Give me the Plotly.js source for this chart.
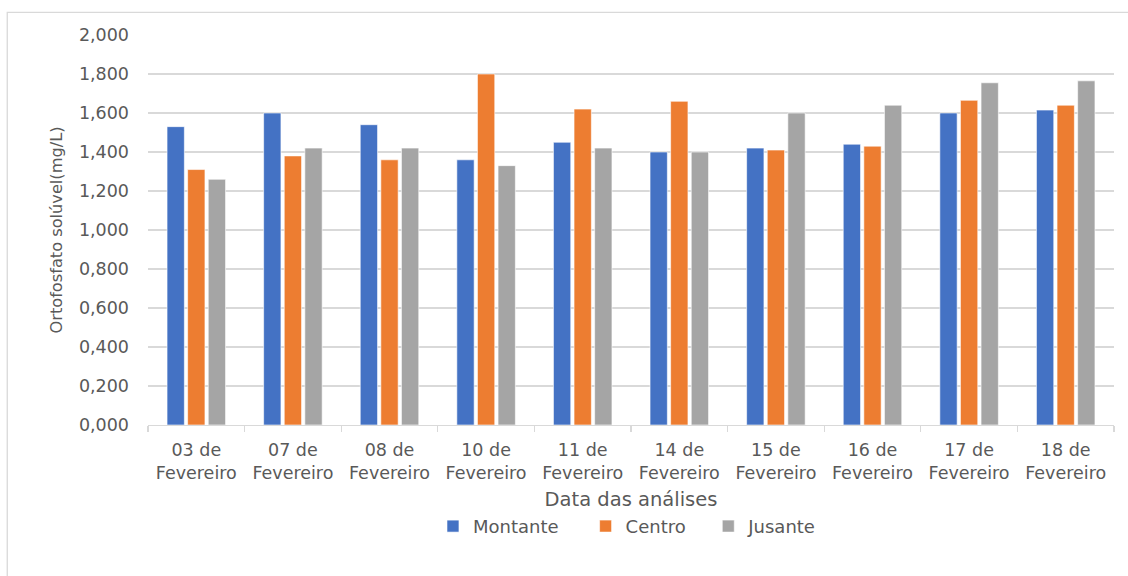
<!DOCTYPE html>
<html>
<head>
<meta charset="utf-8">
<script src="https://cdn.plot.ly/plotly-3.0.1.min.js"></script>
<style>html,body{margin:0;padding:0;background:#fff;}#chart{width:1128px;height:576px;}</style>
</head>
<body>
<div id="chart"></div>
<script>
const categories = ["03 de<br>Fevereiro","07 de<br>Fevereiro","08 de<br>Fevereiro","10 de<br>Fevereiro","11 de<br>Fevereiro","14 de<br>Fevereiro","15 de<br>Fevereiro","16 de<br>Fevereiro","17 de<br>Fevereiro","18 de<br>Fevereiro"];
const montante = [1.53, 1.60, 1.54, 1.36, 1.45, 1.40, 1.42, 1.44, 1.60, 1.615];
const centro   = [1.31, 1.38, 1.36, 1.80, 1.62, 1.66, 1.41, 1.43, 1.665, 1.64];
const jusante  = [1.26, 1.42, 1.42, 1.33, 1.42, 1.40, 1.60, 1.64, 1.755, 1.765];
const seriesNames = ["Montante","Centro","Jusante"];
const colors = ["#4472C4","#ED7D31","#A5A5A5"];
const legendIds = ["legend","legend2","legend3"];

const fam = "DejaVu Sans, sans-serif";
const txt = "#595959";
const data = [montante, centro, jusante].map((v, i) => ({
  type: "bar", x: categories, y: v, name: seriesNames[i], legend: legendIds[i],
  marker: {color: colors[i], line: {color: "#ffffff", width: 0.6}},
  hoverinfo: "y"
}));

function leg(x) {
  return {orientation: "h", x: x, xanchor: "left", y: -0.26, yanchor: "middle",
          font: {family: fam, size: 18, color: txt}, bgcolor: "rgba(0,0,0,0)", borderwidth: 0};
}

const layout = {
  width: 1128, height: 576,
  margin: {l: 148, r: 14, t: 35, b: 151},
  paper_bgcolor: "#fff", plot_bgcolor: "#fff",
  separators: ",.",
  font: {family: fam, color: txt, size: 16},
  barmode: "group", bargap: 0.36, bargroupgap: 0.16,
  showlegend: true,
  legend: leg(0.295), legend2: leg(0.453), legend3: leg(0.580),
  xaxis: {
    type: "category", showline: true, linecolor: "#d9d9d9", linewidth: 1.3,
    ticks: "outside", tickson: "boundaries", ticklen: 6, tickcolor: "#d9d9d9", tickwidth: 1.3,
    ticklabelstandoff: 9,
    showgrid: false, tickfont: {family: fam, size: 17.5, color: txt},
    title: {text: "Data das análises", font: {family: fam, size: 19.5, color: txt}, standoff: 10}
  },
  yaxis: {
    range: [0, 2.0], dtick: 0.2, tickformat: ".3f",
    showgrid: true, gridcolor: "#d9d9d9", gridwidth: 1.3, zeroline: false,
    showline: false, ticks: "", ticklabelstandoff: 18, tickfont: {family: fam, size: 17.5, color: txt},
    title: {text: "Ortofosfato solúvel(mg/L)", font: {family: fam, size: 16.2, color: txt}, standoff: 12}
  },
  shapes: [{type: "rect", xref: "paper", yref: "paper", x0: -0.1457, x1: 1.05, y0: -0.6, y1: 1.058,
            line: {color: "#d9d9d9", width: 1.3}, fillcolor: "rgba(0,0,0,0)", layer: "below"}]
};
Plotly.newPlot("chart", data, layout, {displayModeBar: false, staticPlot: true});
</script>
</body>
</html>
